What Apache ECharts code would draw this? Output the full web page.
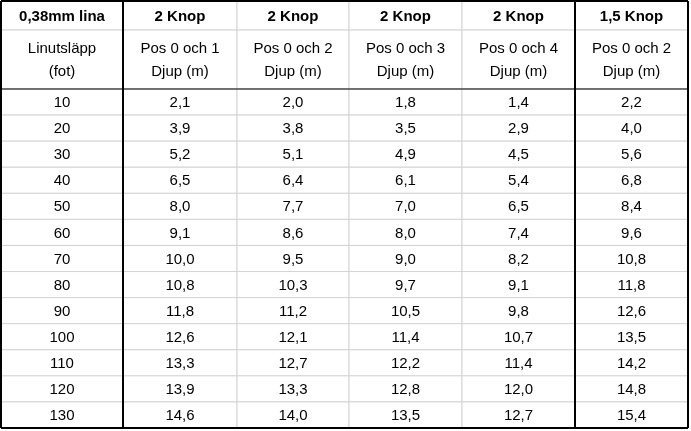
<!DOCTYPE html>
<html><head><meta charset="utf-8">
<script src="https://cdn.jsdelivr.net/npm/echarts@6/dist/echarts.min.js"></script>
<style>html,body{margin:0;padding:0;background:#fff}#c{width:691px;height:431px}</style>
</head><body><div id="c"></div>
<script>
const headerTop = ["0,38mm lina","2 Knop","2 Knop","2 Knop","2 Knop","1,5 Knop"];
const headerSub = ["Linutsläpp\n(fot)","Pos 0 och 1\nDjup (m)","Pos 0 och 2\nDjup (m)","Pos 0 och 3\nDjup (m)","Pos 0 och 4\nDjup (m)","Pos 0 och 2\nDjup (m)"];
const linutslapp = [10,20,30,40,50,60,70,80,90,100,110,120,130];
const pos01 = ["2,1","3,9","5,2","6,5","8,0","9,1","10,0","10,8","11,8","12,6","13,3","13,9","14,6"];
const pos02 = ["2,0","3,8","5,1","6,4","7,7","8,6","9,5","10,3","11,2","12,1","12,7","13,3","14,0"];
const pos03 = ["1,8","3,5","4,9","6,1","7,0","8,0","9,0","9,7","10,5","11,4","12,2","12,8","13,5"];
const pos04 = ["1,4","2,9","4,5","5,4","6,5","7,4","8,2","9,1","9,8","10,7","11,4","12,0","12,7"];
const knop15 = ["2,2","4,0","5,6","6,8","8,4","9,6","10,8","11,8","12,6","13,5","14,2","14,8","15,4"];

// layout (axis units)
const colB = [1,123,237,349,462,575,688];
const rowB = [1,30,89];
const dataH = (428-89)/13;
for (let i=1;i<=13;i++) rowB.push(89+i*dataH);

const cols = [linutslapp.map(String), pos01, pos02, pos03, pos04, knop15];
const cells = [];
for (let c=0;c<6;c++){
  cells.push([c,0,headerTop[c],1]);
  cells.push([c,1,headerSub[c],0]);
  for (let r=0;r<13;r++) cells.push([c,r+2,cols[c][r],0]);
}
const thick = [
  [colB[0],rowB[0],colB[6],rowB[0],2],
  [colB[0],rowB[15],colB[6],rowB[15],2],
  [colB[0],rowB[0],colB[0],rowB[15],2],
  [colB[6],rowB[0],colB[6],rowB[15],2],
  [colB[1],rowB[0],colB[1],rowB[15],2],
  [colB[5],rowB[0],colB[5],rowB[15],2],
  [colB[0],rowB[2],colB[6],rowB[2],1.2]
];
const chart = echarts.init(document.getElementById('c'));
chart.setOption({
  animation:false,
  grid:{left:0,right:0,top:0,bottom:0},
  xAxis:{type:'value',min:0,max:691,show:false},
  yAxis:{type:'value',min:0,max:431,inverse:true,show:false},
  series:[
    {type:'custom',data:cells,renderItem:(p,api)=>{
      const c=api.value(0), r=api.value(1);
      const a=api.coord([colB[c],rowB[r]]), b=api.coord([colB[c+1],rowB[r+1]]);
      const d=cells[p.dataIndex];
      return {type:'group',children:[
        {type:'rect',shape:{x:a[0],y:a[1],width:b[0]-a[0],height:b[1]-a[1]},style:{fill:'#fff',stroke:'#d4d4d4',lineWidth:1}},
        {type:'text',x:(a[0]+b[0])/2,y:(a[1]+b[1])/2+1,style:{text:d[2],fill:'#000',align:'center',verticalAlign:'middle',
          font:(d[3]?'bold ':'')+'15px "Liberation Sans", Arial, sans-serif',lineHeight:23}}
      ]};
    }},
    {type:'custom',data:thick,z:5,renderItem:(p,api)=>{
      const a=api.coord([api.value(0),api.value(1)]), b=api.coord([api.value(2),api.value(3)]);
      return {type:'line',shape:{x1:a[0],y1:a[1],x2:b[0],y2:b[1]},style:{stroke:'#000',lineWidth:api.value(4)}};
    }}
  ]
});
</script></body></html>
